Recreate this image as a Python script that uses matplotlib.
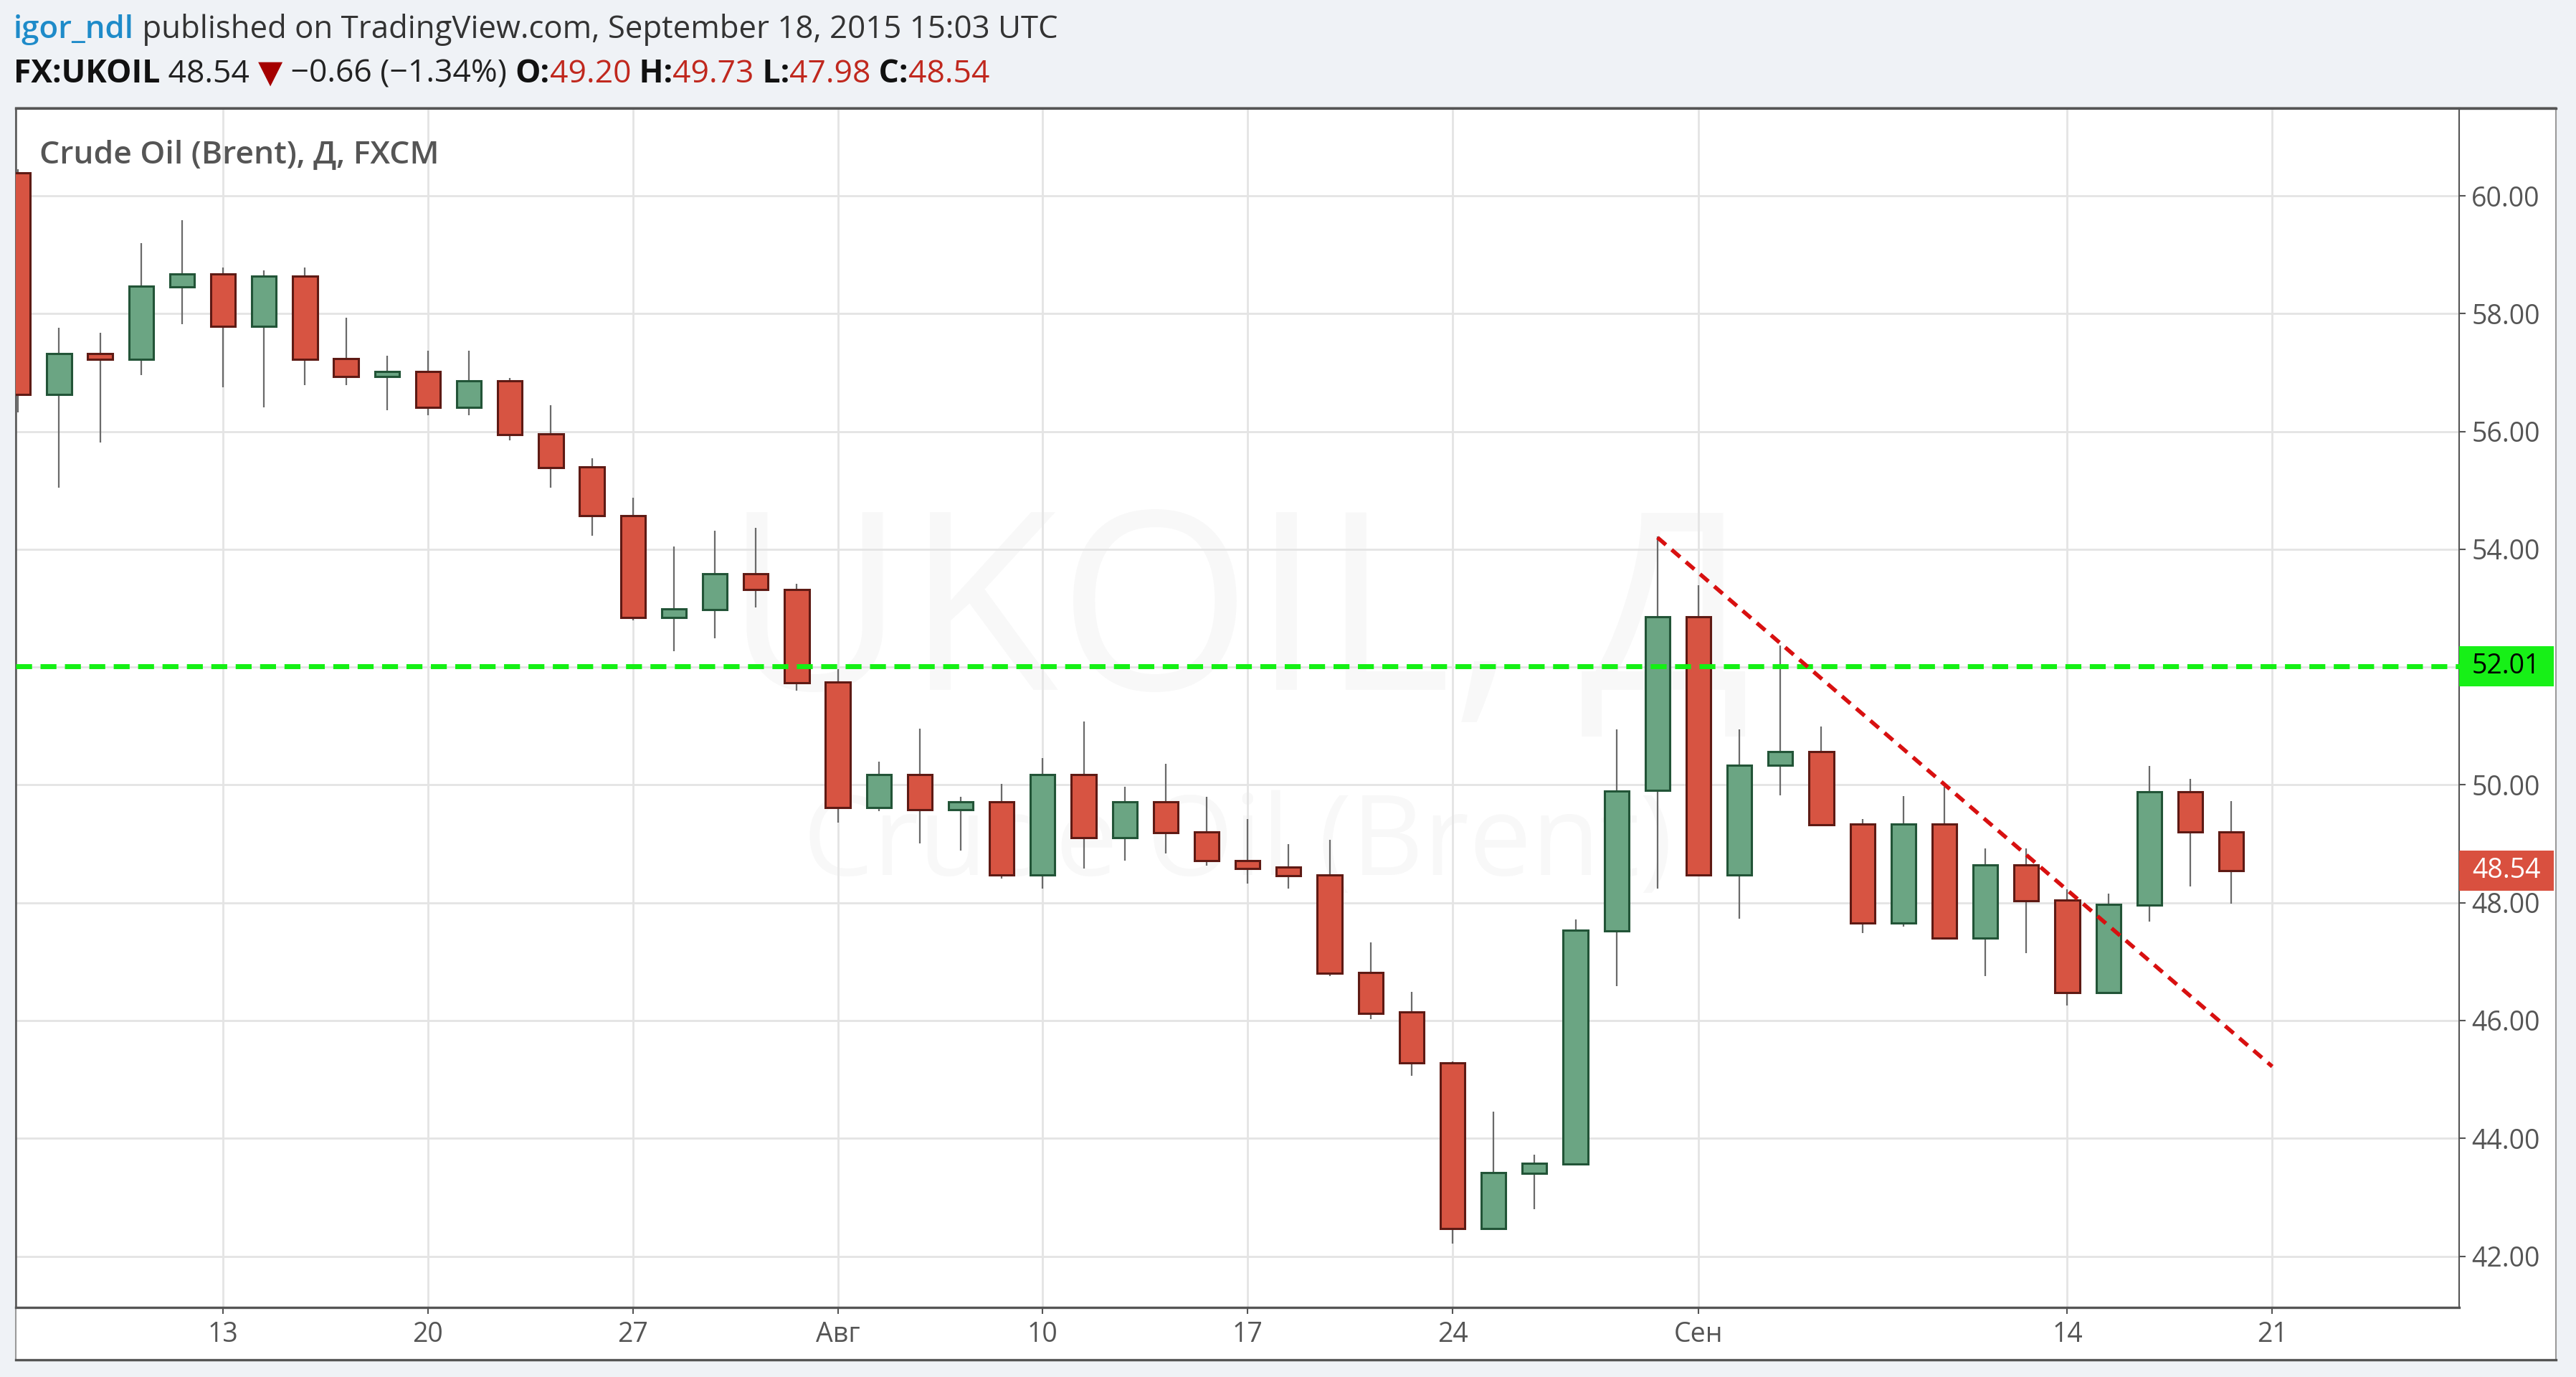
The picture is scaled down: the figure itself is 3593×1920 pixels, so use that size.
import numpy as np
import matplotlib
matplotlib.use('Agg')
import matplotlib.pyplot as plt
from matplotlib.patches import Rectangle
from matplotlib.lines import Line2D
from matplotlib.transforms import blended_transform_factory

plt.rcParams['font.family'] = ['Open Sans', 'DejaVu Sans']

# daily bars, Jul 6 .. Sep 18 2015 (trading days only)
opens = [60.39, 56.63, 57.32, 57.23, 58.46, 58.68, 57.78, 58.64, 57.24, 56.93,
         57.02, 56.41, 56.86, 55.96, 55.40, 54.57, 52.84, 52.98, 53.58, 53.32,
         51.75, 49.62, 50.18, 49.58, 49.71, 48.47, 50.18, 49.10, 49.71, 49.20,
         48.72, 48.60, 48.47, 46.81, 46.14, 45.28, 42.47, 43.41, 43.57, 47.52,
         49.91, 52.86, 48.47, 50.34, 50.56, 49.33, 47.66, 49.33, 47.40, 48.64,
         48.05, 46.47, 47.96, 49.88, 49.20]
highs = [60.45, 57.76, 57.67, 59.20, 59.59, 58.78, 58.73, 58.78, 57.93, 57.29,
         57.37, 57.37, 56.91, 56.44, 55.54, 54.87, 54.05, 54.32, 54.36, 53.41,
         51.97, 50.40, 50.96, 49.80, 50.02, 50.45, 51.08, 49.97, 50.36, 49.80,
         49.42, 48.99, 49.07, 47.33, 46.49, 45.30, 44.45, 43.72, 47.72, 50.94,
         54.22, 53.39, 50.94, 52.37, 50.99, 49.42, 49.81, 49.97, 48.92, 48.92,
         48.23, 48.15, 50.32, 50.10, 49.73]
lows = [56.32, 55.04, 55.81, 56.96, 57.82, 56.75, 56.41, 56.79, 56.79, 56.36,
        56.28, 56.28, 55.85, 55.04, 54.23, 52.79, 52.27, 52.49, 53.01, 51.60,
        49.36, 49.56, 49.01, 48.88, 48.41, 48.24, 48.58, 48.71, 48.84, 48.63,
        48.32, 48.24, 46.75, 46.03, 45.06, 42.21, 42.47, 42.80, 43.57, 46.58,
        48.24, 48.45, 47.73, 49.82, 49.32, 47.48, 47.60, 47.40, 46.75, 47.14,
        46.25, 46.47, 47.68, 48.28, 47.98]
closes = [56.63, 57.32, 57.23, 58.47, 58.68, 57.78, 58.64, 57.23, 56.93, 57.02,
          56.41, 56.86, 55.95, 55.39, 54.57, 52.84, 52.99, 53.58, 53.32, 51.74,
          49.62, 50.18, 49.58, 49.71, 48.47, 50.18, 49.10, 49.71, 49.19, 48.72,
          48.58, 48.46, 46.80, 46.12, 45.28, 42.47, 43.42, 43.58, 47.53, 49.90,
          52.86, 48.47, 50.34, 50.56, 49.32, 47.66, 49.33, 47.40, 48.64, 48.03,
          46.47, 47.97, 49.88, 49.20, 48.54]

tick_pos = [5, 10, 15, 20, 25, 30, 35, 41, 50, 55]
tick_labels = ['13', '20', '27', 'Авг', '10', '17', '24', 'Сен', '14', '21']
price_ticks = np.arange(42, 61, 2)

level = 52.01
last_price = 48.54
trend_x = [40, 55]
trend_y = [54.20, 45.22]

W, H = 3593, 1920
fig = plt.figure(figsize=(W / 100, H / 100), dpi=100, facecolor='#eff2f6')

# outer white chart frame
fig.patches.append(Rectangle((22 / W, 1 - 1897 / H), (3565 - 22) / W, (1897 - 150) / H,
                             transform=fig.transFigure, facecolor='white',
                             edgecolor='#9a9a9a', lw=1.5, zorder=-2))
for yy in (150.5, 1896):
    fig.lines.append(Line2D([22 / W, 3565 / W], [1 - yy / H] * 2, transform=fig.transFigure,
                            color='#555555', lw=2.4, zorder=-1))

ax = fig.add_axes([22 / W, 1 - 1823 / H, (3430 - 22) / W, (1823 - 150.7) / H])
ax.set_zorder(3)
ax.set_facecolor('white')
ax.set_axisbelow(True)

o = np.array(opens); h = np.array(highs); l = np.array(lows); c = np.array(closes)
idx = np.arange(len(o))
up = c >= o
bot = np.minimum(o, c)
hgt = np.abs(c - o)

ax.vlines(idx, l, h, color='#6a6a6a', lw=1.6, zorder=2)
ax.bar(idx[up], hgt[up], bottom=bot[up], width=0.6, color='#6ba583',
       edgecolor='#225437', linewidth=2.2, zorder=3)
ax.bar(idx[~up], hgt[~up], bottom=bot[~up], width=0.6, color='#d75442',
       edgecolor='#5e1a14', linewidth=2.2, zorder=3)

ax.axhline(level, color='#14f014', lw=5, dashes=(3.2, 1.7), zorder=4)
ax.plot(trend_x, trend_y, color='#d81010', lw=4, dashes=(2.8, 1.9), zorder=5)

ax.set_xlim(-0.056, 59.56)
ax.set_ylim(41.13, 61.49)

ax.yaxis.tick_right()
ax.set_yticks(price_ticks)
ax.set_yticklabels(['%.2f' % v for v in price_ticks])
ax.set_xticks(tick_pos)
ax.set_xticklabels(tick_labels)
ax.tick_params(axis='y', length=6.5, width=1.5, color='#555555', labelcolor='#555555',
               labelsize=27, pad=6)
ax.tick_params(axis='x', length=6.5, width=1.5, color='#555555', labelcolor='#555555',
               labelsize=27, pad=7)
ax.grid(True, color='#e4e4e4', lw=2)

for side in ('left', 'top', 'right', 'bottom'):
    ax.spines[side].set_color('#555555')
ax.spines['left'].set_linewidth(1.8)
ax.spines['right'].set_linewidth(1.5)
ax.spines['top'].set_linewidth(2.2)
ax.spines['bottom'].set_linewidth(2.4)

# watermark
ax.text(0.5, 0.569, 'UKOIL, Д', transform=ax.transAxes, ha='center', va='center',
        fontsize=250, color='#f8f8f8', zorder=0.1)
ax.text(0.5, 0.385, 'Crude Oil (Brent)', transform=ax.transAxes, ha='center', va='center',
        fontsize=112, color='#f8f8f8', zorder=0.1)

ax.text(33 / 3408, (1823 - 227) / 1672.3, 'Crude Oil (Brent), Д, FXCM', transform=ax.transAxes,
        ha='left', va='baseline', fontsize=32, color='#555555', fontweight='semibold')

# price labels on the scale
tr = blended_transform_factory(ax.transAxes, ax.transData)
for val, bg, fg in ((level, '#17f017', 'black'), (last_price, '#d9503f', 'white')):
    ax.add_patch(Rectangle((1.0, val - 0.34), 132 / 3408, 0.68, transform=tr,
                           facecolor=bg, edgecolor='none', clip_on=False, zorder=6))
    ax.text(1.0 + 18 / 3408, val, '%.2f' % val, transform=tr, ha='left', va='center',
            fontsize=27, color=fg, zorder=7, clip_on=False)

# header lines
renderer = fig.canvas.get_renderer()


def header(pieces, x, y, size):
    for s, col, wt in pieces:
        t = fig.text(x / W, 1 - y / H, s, color=col, fontweight=wt, fontsize=size,
                     va='baseline', ha='left')
        x += t.get_window_extent(renderer).width


red = '#c0281e'
header([('igor_ndl', '#1e8bc9', 'semibold'),
        (' published on TradingView.com, September 18, 2015 15:03 UTC', '#333333', 'normal')],
       19, 53, 31.5)
header([('FX:UKOIL', '#111111', 'bold'), (' 48.54 ', '#222222', 'normal'),
        ('▼', '#a50000', 'normal'), (' −0.66 (−1.34%) ', '#222222', 'normal'),
        ('O:', '#111111', 'bold'), ('49.20', red, 'normal'),
        (' H:', '#111111', 'bold'), ('49.73', red, 'normal'),
        (' L:', '#111111', 'bold'), ('47.98', red, 'normal'),
        (' C:', '#111111', 'bold'), ('48.54', red, 'normal')],
       19, 115, 32)

fig.savefig('out.png', dpi=100, facecolor=fig.get_facecolor())
